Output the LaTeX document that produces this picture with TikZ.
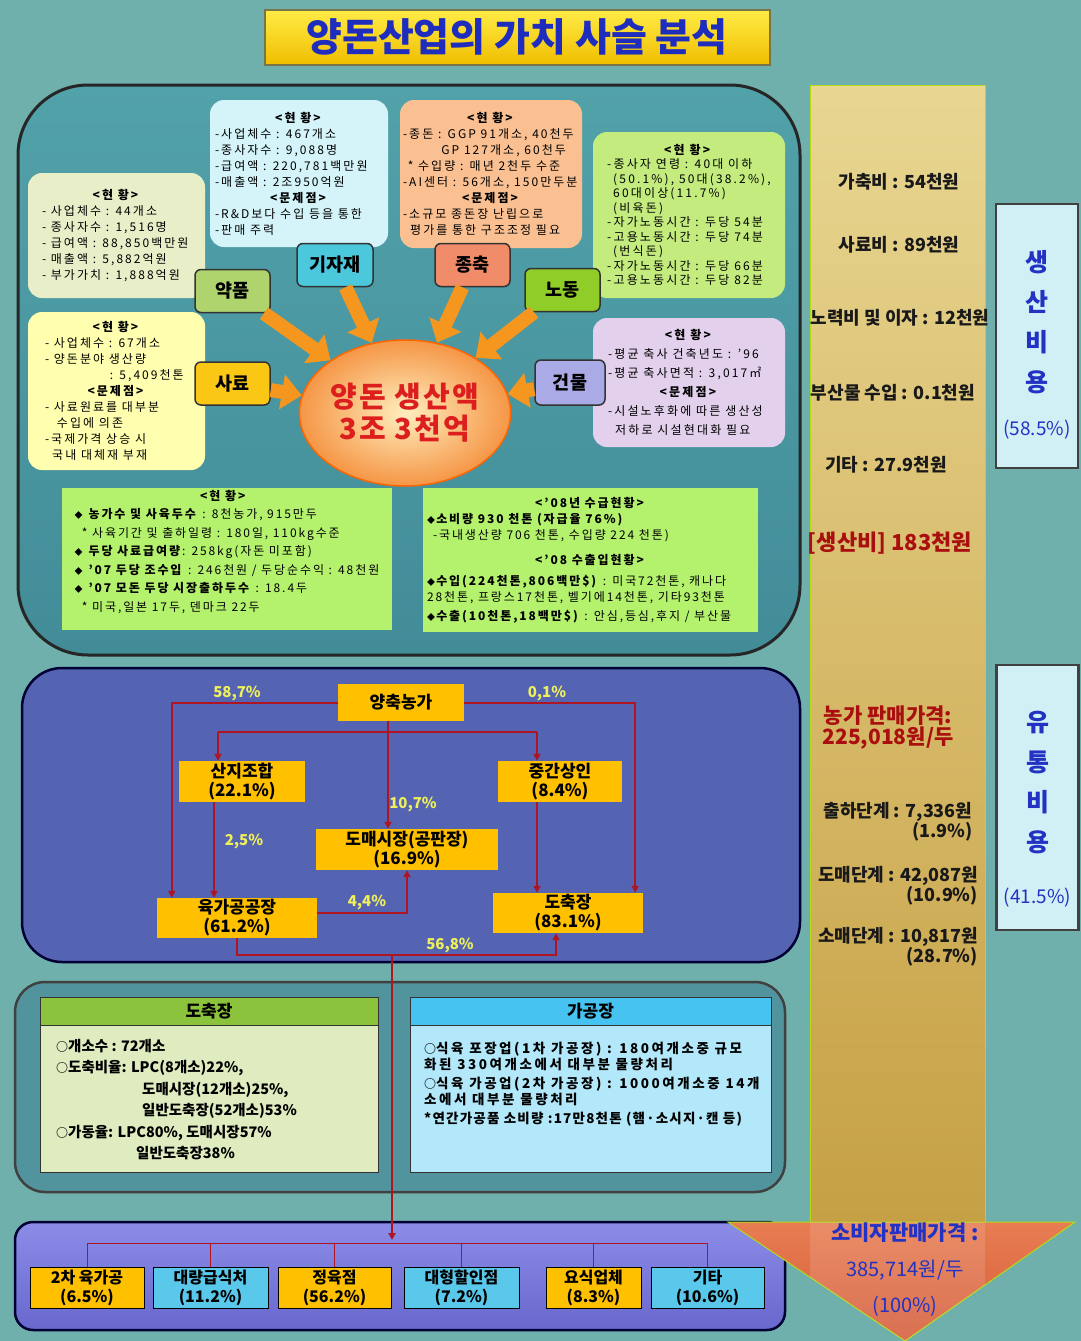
\documentclass[tikz,border=0pt]{standalone}
\usepackage{fontspec}
\setmainfont{Noto Sans CJK KR}
\usetikzlibrary{arrows.meta,shapes.geometric,calc}
\definecolor{bg}{RGB}{112,176,172}
\definecolor{toptop}{RGB}{82,162,170}
\definecolor{topbot}{RGB}{66,140,152}
\definecolor{midpanel}{RGB}{84,100,178}
\definecolor{lowpanel}{RGB}{82,148,158}
\definecolor{bottop}{RGB}{140,140,232}
\definecolor{botbot}{RGB}{104,104,205}
\definecolor{titletop}{RGB}{255,236,70}
\definecolor{titlebot}{RGB}{240,190,0}
\definecolor{titleblue}{RGB}{30,45,190}
\definecolor{beige}{RGB}{232,238,200}
\definecolor{lcyan}{RGB}{212,244,250}
\definecolor{lorange}{RGB}{250,192,145}
\definecolor{lgreen}{RGB}{195,235,125}
\definecolor{lyellow}{RGB}{255,255,175}
\definecolor{llav}{RGB}{226,208,236}
\definecolor{tgreen}{RGB}{180,242,110}
\definecolor{arrowor}{RGB}{245,150,30}
\definecolor{flowred}{RGB}{175,20,35}
\definecolor{pctyel}{RGB}{240,240,90}
\definecolor{boxgold}{RGB}{255,192,0}
\definecolor{boxcyan}{RGB}{90,200,235}
\definecolor{darkred}{RGB}{170,15,15}
\definecolor{blue2}{RGB}{35,50,195}
\definecolor{goldtop}{RGB}{232,214,145}
\definecolor{goldbot}{RGB}{198,160,68}
\definecolor{headtop}{RGB}{232,125,82}
\definecolor{headbot}{RGB}{212,92,58}
\definecolor{sidefill}{RGB}{208,240,246}
\definecolor{labyak}{RGB}{175,212,110}
\definecolor{labgi}{RGB}{75,200,220}
\definecolor{labjong}{RGB}{240,140,105}
\definecolor{labno}{RGB}{145,205,40}
\definecolor{labsa}{RGB}{250,200,20}
\definecolor{labgeon}{RGB}{170,170,230}
\definecolor{hdgreen}{RGB}{140,195,60}
\definecolor{bdgreen}{RGB}{222,236,192}
\definecolor{hdblue}{RGB}{70,195,240}
\definecolor{bdblue}{RGB}{178,232,250}
\newcommand{\hdr}[2]{\makebox[#1][c]{#2}}
\newcommand{\dia}{{\fontsize{8}{8}\selectfont ◆}}
\newcommand{\circmark}{{\fontsize{12}{12}\selectfont ○}}
\begin{document}
\begin{tikzpicture}[x=1pt,y=-1pt,
  info/.style={rounded corners=14pt, inner sep=0pt, align=left, font=\fontsize{12}{16}\selectfont\addfontfeature{LetterSpace=17}, text=black},
  lab/.style={draw=black!80, line width=1.5pt, rounded corners=6pt, minimum width=75pt, minimum height=43pt, inner sep=0pt, font=\fontsize{18.5}{18.5}\selectfont\bfseries},
  fat/.style={line width=14pt, draw=arrowor, -{Triangle[length=20pt,width=34pt]}},
  flow/.style={draw=flowred, line width=2pt, -{Triangle[length=7pt,width=7pt]}},
  flowline/.style={draw=flowred, line width=2pt},
  thinred/.style={draw=flowred, line width=1pt},
  pct/.style={text=pctyel, font=\fontsize{15}{15}\selectfont\bfseries, inner sep=0pt},
  mbox/.style={fill=boxgold, inner sep=0pt, align=center, font=\fontsize{17}{19}\selectfont\bfseries},
  dbox/.style={draw=black, line width=1pt, minimum height=41pt, inner sep=0pt, align=center, font=\fontsize{16}{19}\selectfont\bfseries},
  ctext/.style={inner sep=0pt, font=\fontsize{18}{19}\selectfont\bfseries, text=black!90},
  sidebox/.style={draw=black!75, line width=2.5pt, fill=sidefill, minimum width=82pt, inner sep=0pt},
  sidetext/.style={inner sep=0pt, align=center, text=blue2, font=\fontsize{25}{40}\selectfont\bfseries},
]
\useasboundingbox (0,0) rectangle (1081,1341);
\fill[bg] (0,0) rectangle (1081,1341);

% ---------- title
\node[draw=black!60!yellow, line width=2pt, top color=titletop, bottom color=titlebot, minimum width=505pt, minimum height=55pt, inner sep=0pt, text=titleblue, font=\fontsize{39}{39}\selectfont\bfseries] (title) at (517,37) {양돈산업의 가치 사슬 분석};

% ---------- panels
\draw[line width=3pt, draw=black!85, top color=toptop, bottom color=topbot, rounded corners=70pt] (18,85) rectangle (800,655);
\draw[line width=2.5pt, draw=black!80!blue, fill=midpanel, rounded corners=40pt] (22,668) rectangle (800,962);
\draw[line width=2.5pt, draw=black!75, fill=lowpanel, rounded corners=30pt] (15,982) rectangle (785,1192);
\draw[line width=2.5pt, draw=black!80!blue, top color=bottop, bottom color=botbot, rounded corners=18pt] (15,1222) rectangle (785,1330);

% ---------- right cost arrow
\node[draw=yellow!70!green, line width=1pt, top color=goldtop, bottom color=goldbot, minimum width=175pt, minimum height=1137pt, inner sep=0pt] (bar) at (897.5,653.5) {};
\path[draw=yellow!70!green, line width=1pt, top color=headtop, bottom color=headbot] (728,1222) -- (1075,1222) -- (905,1341) -- cycle;
\begin{scope}
\clip (728,1222) -- (1075,1222) -- (905,1341) -- cycle;
\fill[white, opacity=0.12] (810,1222) rectangle (985,1341);
\end{scope}

\node[ctext] (c1) at (899,182) {가축비 : 54천원};
\node[ctext] (c2) at (899,245) {사료비 : 89천원};
\node[ctext] (c3) at (900,318) {노력비 및 이자 : 12천원};
\node[ctext] (c4) at (893,393) {부산물 수입 : 0.1천원};
\node[ctext] (c5) at (886,465) {기타 : 27.9천원};
\node[ctext, text=darkred, font=\fontsize{22}{22}\selectfont\bfseries] (c6) at (890,543) {[생산비] 183천원};
\node[ctext, text=darkred, align=center, font=\fontsize{21}{21}\selectfont\bfseries] (c7) at (888,728) {농가 판매가격:\\225,018원/두};
\node[ctext, align=right] (c8) at (898,822) {출하단계 : 7,336원\\(1.9\%)};
\node[ctext, align=right] (c9) at (898,886) {도매단계 : 42,087원\\(10.9\%)};
\node[ctext, align=right] (c10) at (898,947) {소매단계 : 10,817원\\(28.7\%)};
\node[ctext, text=blue2, font=\fontsize{21}{21}\selectfont\bfseries] (c11) at (905,1233) {소비자판매가격 :};
\node[ctext, text=blue2, font=\fontsize{20}{20}\selectfont] (c12) at (905,1270) {385,714원/두};
\node[ctext, text=blue2, font=\fontsize{20}{20}\selectfont] (c13) at (905,1306) {(100\%)};

\node[sidebox, minimum height=264pt] (prod) at (1037,336) {};
\node[sidetext] (prodtxt) at (1037,345) {생\\산\\비\\용\\[4pt]{\fontsize{19}{19}\selectfont\mdseries(58.5\%)}};
\node[sidebox, minimum height=265pt] (dist) at (1037.5,797.5) {};
\node[sidetext] (disttxt) at (1037.5,809) {유\\통\\비\\용\\[12pt]{\fontsize{19}{19}\selectfont\mdseries(41.5\%)}};

% ---------- top panel info boxes
\node[info, fill=beige, minimum width=177pt, minimum height=125pt] (yakbox) at (116.5,235.5) {%
\hdr{149pt}{\textbf{<현 황>}}\\
- 사업체수 : 44개소\\
- 종사자수 : 1,516명\\
- 급여액 : 88,850백만원\\
- 매출액 : 5,882억원\\
- 부가가치 : 1,888억원};

\node[info, fill=lcyan, minimum width=178pt, minimum height=147pt] (gibox) at (299,173.5) {%
\hdr{168pt}{\textbf{<현 황>}}\\
-사업체수 : 467개소\\
-종사자수 : 9,088명\\
-급여액 : 220,781백만원\\
-매출액 : 2조950억원\\
\hdr{168pt}{\textbf{<문제점>}}\\
-R\&D보다 수입 등을 통한\\
-판매 주력};

\node[info, fill=lorange, minimum width=182pt, minimum height=148pt] (jongbox) at (491,174) {%
\hdr{176pt}{\textbf{<현 황>}}\\
-종돈 : GGP 91개소, 40천두\\
\hspace*{3.2em}GP 127개소, 60천두\\
\hspace*{0.4em}* 수입량 : 매년 2천두 수준\\
-AI센터 : 56개소, 150만두분\\
\hdr{176pt}{\textbf{<문제점>}}\\
-소규모 종돈장 난립으로\\
\hspace*{0.6em}평가를 통한 구조조정 필요};

\node[info, fill=lgreen, minimum width=192pt, minimum height=166pt, font=\fontsize{12}{14.5}\selectfont\addfontfeature{LetterSpace=18}] (nobox) at (689,215) {%
\hdr{162pt}{\textbf{<현 황>}}\\
-종사자 연령 : 40대 이하\\
\hspace*{0.5em}(50.1\%), 50대(38.2\%),\\
\hspace*{0.5em}60대이상(11.7\%)\\
\hspace*{0.5em}(비육돈)\\
-자가노동시간 : 두당 54분\\
-고용노동시간 : 두당 74분\\
\hspace*{0.5em}(번식돈)\\
-자가노동시간 : 두당 66분\\
-고용노동시간 : 두당 82분};

\node[info, fill=lyellow, minimum width=177pt, minimum height=158pt] (sabox) at (116.5,391) {%
\hdr{143pt}{\textbf{<현 황>}}\\
- 사업체수 : 67개소\\
- 양돈분야 생산량\\
\hspace*{5.4em}: 5,409천톤\\
\hdr{143pt}{\textbf{<문제점>}}\\
- 사료원료를 대부분\\
\hspace*{1em}수입에 의존\\
-국제가격 상승 시\\
\hspace*{0.6em}국내 대체재 부재};

\node[info, fill=llav, minimum width=192pt, minimum height=129pt, font=\fontsize{12}{19}\selectfont\addfontfeature{LetterSpace=18}] (geonbox) at (689,382.5) {%
\hdr{162pt}{\textbf{<현 황>}}\\
-평균 축사 건축년도 : '96\\
-평균 축사면적 : 3,017㎡\\
\hdr{162pt}{\textbf{<문제점>}}\\
-시설노후화에 따른 생산성\\
\hspace*{0.6em}저하로 시설현대화 필요};

% ---------- labels
\node[lab, fill=labyak] (yak) at (232.5,291) {약품};
\node[lab, fill=labgi, minimum width=76pt] (gi) at (335,265) {기자재};
\node[lab, fill=labjong] (jong) at (472.5,265) {종축};
\node[lab, fill=labno] (no) at (562.5,290) {노동};
\node[lab, fill=labsa] (sa) at (232.5,383.5) {사료};
\node[lab, fill=labgeon, minimum width=70pt, minimum height=45pt] (geon) at (570,382.5) {건물};

% ---------- center
\node[ellipse, minimum width=176pt, minimum height=146pt, inner sep=0pt, draw=orange!80!red, line width=1.5pt, inner color={rgb,255:red,255;green,238;blue,190}, outer color={rgb,255:red,245;green,150;blue,70}, align=center, text={rgb,255:red,220;green,30;blue,30}, font=\fontsize{29}{32}\selectfont\bfseries\addfontfeature{LetterSpace=8}] (ctr) at (405,413) {양돈 생산액\\3조 3천억};

\draw[fat] (yak) -- (ctr);
\draw[fat] (gi) -- (ctr);
\draw[fat] (jong) -- (ctr);
\draw[fat] (no) -- (ctr);
\draw[fat] (sa) -- (ctr);
\draw[fat] (geon) -- (ctr);

% ---------- lower green boxes of top panel
\node[fill=tgreen, minimum width=330pt, minimum height=142pt, inner sep=0pt] (gl) at (227,559) {};
\node[info, font=\fontsize{12}{18.5}\selectfont\addfontfeature{LetterSpace=16}] (gltext) at (227,552) {%
\hdr{298pt}{\textbf{<현 황>}}\\
\dia\ \textbf{농가수 및 사육두수} : 8천농가, 915만두\\
\hspace*{0.6em}* 사육기간 및 출하일령 : 180일, 110kg수준\\
\dia\ \textbf{두당 사료급여량}: 258kg(자돈 미포함)\\
\dia\ \textbf{'07 두당 조수입} : 246천원 / 두당순수익 : 48천원\\
\dia\ \textbf{'07 모돈 두당 시장출하두수} : 18.4두\\
\hspace*{0.6em}* 미국,일본 17두, 덴마크 22두};

\node[info, rounded corners=0pt, fill=tgreen, minimum width=335pt, minimum height=144pt, font=\fontsize{12}{16}\selectfont\addfontfeature{LetterSpace=16}] (gr) at (590.5,560) {%
\hdr{327pt}{\textbf{<'08년 수급현황>}}\\
\dia\textbf{소비량 930 천톤 (자급율 76\%)}\\
\hspace*{0.5em}-국내생산량 706 천톤, 수입량 224 천톤)\\[9pt]
\hdr{327pt}{\textbf{<'08 수출입현황>}}\\[5pt]
\dia\textbf{수입(224천톤,806백만\$)} : 미국72천톤, 캐나다\\
28천톤, 프랑스17천톤, 벨기에14천톤, 기타93천톤\\[3pt]
\dia\textbf{수출(10천톤,18백만\$)} : 안심,등심,후지 / 부산물};

% ---------- middle flow
\node[mbox, minimum width=126pt, minimum height=37pt] (farm) at (401,702.5) {양축농가};
\node[mbox, minimum width=126pt, minimum height=41pt] (sanji) at (242,781.5) {산지조합\\(22.1\%)};
\node[mbox, minimum width=124pt, minimum height=41pt] (mid) at (560,781.5) {중간상인\\(8.4\%)};
\node[mbox, minimum width=182pt, minimum height=41pt] (whole) at (407,849.5) {도매시장(공판장)\\(16.9\%)};
\node[mbox, minimum width=160pt, minimum height=40pt] (meat) at (237,918) {육가공공장\\(61.2\%)};
\node[mbox, minimum width=150pt, minimum height=40pt] (slaught) at (568,913) {도축장\\(83.1\%)};

\coordinate (brL) at (218,732);
\coordinate (brR) at (537,732);
\coordinate (junc) at (392,955);
\coordinate (hub) at (392,1243);

\draw[flow] (farm.west) -| ([xshift=15pt]meat.north west);
\draw[flow] (farm.east) -| ([xshift=-8pt]slaught.north east);
\draw[flow] ([xshift=-13pt]farm.south) -- ([xshift=-13pt]farm.south |- whole.north);
\draw[flowline] (brL) -- (brR);
\draw[flow] (brL) -- (brL |- sanji.north);
\draw[flow] (brR) -- (brR |- mid.north);
\draw[flow] ([xshift=-28pt]sanji.south) -- ([xshift=-28pt]sanji.south |- meat.north);
\draw[flow] ([xshift=-23pt]mid.south) -- ([xshift=-23pt]mid.south |- slaught.north);
\draw[flow] ([yshift=5pt]meat.east) -| (whole.south);
\draw[flow] (meat.south) |- (junc) -| ([xshift=-12pt]slaught.south);
\draw[flow] (junc) -- ([yshift=3pt]hub);

\node[pct] (p1) at (237,694) {58,7\%};
\node[pct] (p2) at (547,694) {0,1\%};
\node[pct] (p3) at (413,805) {10,7\%};
\node[pct] (p4) at (244,842) {2,5\%};
\node[pct] (p5) at (367,903) {4,4\%};
\node[pct] (p6) at (450,946) {56,8\%};

% ---------- lower panel boxes
\node[draw=black!80, line width=1pt, fill=hdgreen, minimum width=338pt, minimum height=28pt, inner sep=0pt, font=\fontsize{17}{17}\selectfont\bfseries] (dhead) at (209,1011) {도축장};
\node[draw=black!80, line width=1pt, fill=bdgreen, minimum width=338pt, minimum height=147pt, inner sep=0pt] (dbody) at (209,1098.5) {};
\node[anchor=north west, inner sep=0pt, align=left, font=\fontsize{14.5}{21.5}\selectfont\bfseries] (dtext) at (56,1039) {%
\circmark 개소수 : 72개소\\
\circmark 도축비율: LPC(8개소)22\%,\\
\hspace*{86pt}도매시장(12개소)25\%,\\
\hspace*{86pt}일반도축장(52개소)53\%\\
\circmark 가동율: LPC80\%, 도매시장57\%\\
\hspace*{80pt}일반도축장38\%};

\node[draw=black!80, line width=1pt, fill=hdblue, minimum width=361pt, minimum height=28pt, inner sep=0pt, font=\fontsize{17}{17}\selectfont\bfseries] (ghead) at (590.5,1011) {가공장};
\node[draw=black!80, line width=1pt, fill=bdblue, minimum width=361pt, minimum height=147pt, inner sep=0pt] (gbody) at (590.5,1098.5) {};
\node[anchor=north west, inner sep=0pt, align=left, font=\fontsize{13.5}{15.5}\selectfont\bfseries\addfontfeature{LetterSpace=19}] (gtext) at (424,1042) {%
\circmark 식육 포장업(1차 가공장) : 180여개소중 규모\\
화된 330여개소에서 대부분 물량처리\\[4pt]
\circmark 식육 가공업(2차 가공장) : 1000여개소중 14개\\
소에서 대부분 물량처리\\[4pt]
{\addfontfeature{LetterSpace=9}*연간가공품 소비량 :17만8천톤 (햄·소시지·캔 등)}};

% ---------- bottom distribution
\node[dbox, fill=boxgold, minimum width=114pt] (d1) at (87,1287.5) {2차 육가공\\(6.5\%)};
\node[dbox, fill=boxcyan, minimum width=115pt] (d2) at (210.5,1287.5) {대량급식처\\(11.2\%)};
\node[dbox, fill=boxgold, minimum width=113pt] (d3) at (334.5,1287.5) {정육점\\(56.2\%)};
\node[dbox, fill=boxcyan, minimum width=115pt] (d4) at (461.5,1287.5) {대형할인점\\(7.2\%)};
\node[dbox, fill=boxgold, minimum width=95pt] (d5) at (593.5,1287.5) {요식업체\\(8.3\%)};
\node[dbox, fill=boxcyan, minimum width=113pt] (d6) at (707.5,1287.5) {기타\\(10.6\%)};

\draw[thinred] (d1.north |- hub) -- (d6.north |- hub);
\foreach \d in {d1,d2,d3,d4,d5,d6} { \draw[thinred] (\d.north |- hub) -- (\d.north); }
\end{tikzpicture}
\end{document}
